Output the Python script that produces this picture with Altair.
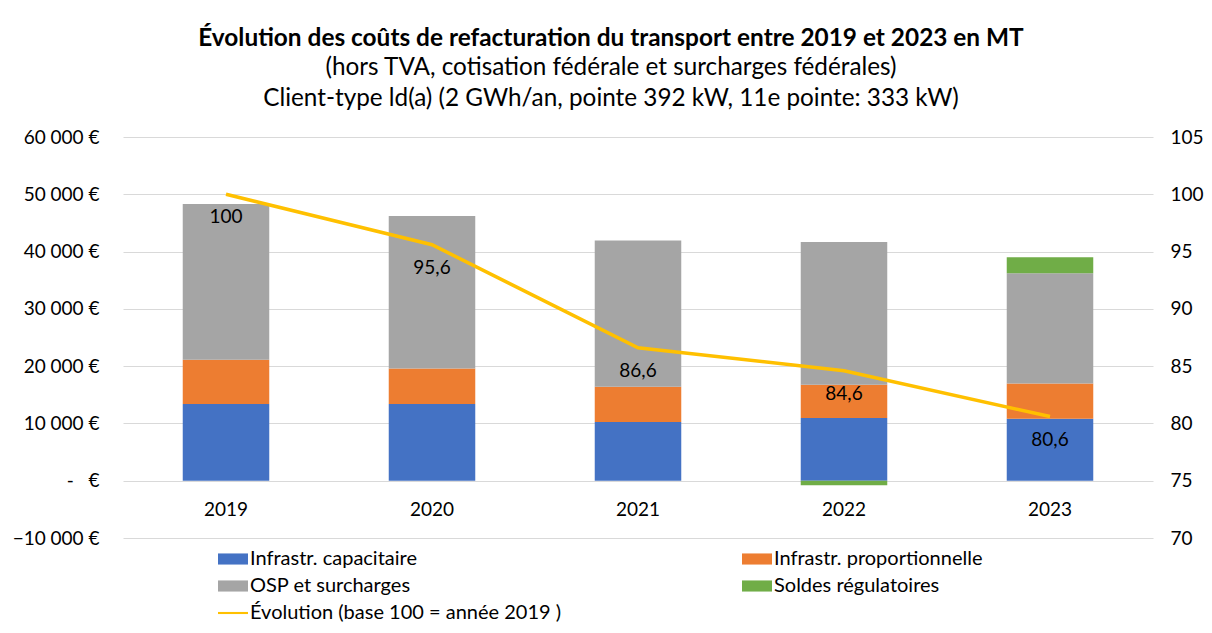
import altair as alt
import pandas as pd

years = ["2019", "2020", "2021", "2022", "2023"]
series = ["Infrastr. capacitaire", "Infrastr. proportionnelle", "OSP et surcharges", "Soldes régulatoires"]
capacitaire = [13400, 13400, 10250, 10950, 10800]
proportionnelle = [7700, 6200, 6150, 5800, 6150]
osp = [27200, 26600, 25550, 24900, 19250]
soldes = [0, 0, 0, -800, 2800]
evolution = [100, 95.6, 86.6, 84.6, 80.6]
line_name = "Évolution (base 100 = année 2019 )"

colors = ["#4472C4", "#ED7D31", "#A5A5A5", "#70AD47", "#FFC000"]
legend_names = series + [line_name]
shapes = ["M-1,-0.37H1V0.37H-1Z"] * 4 + ["M-1,-0.07H1V0.07H-1Z"]

rows = []
for i, y in enumerate(years):
    for k, (name, vals) in enumerate(zip(series, [capacitaire, proportionnelle, osp, soldes])):
        rows.append({"year": y, "serie": name, "value": vals[i], "ord": k})
bars_df = pd.DataFrame(rows)
line_df = pd.DataFrame({"year": years, "idx": evolution})
legend_df = pd.DataFrame({"serie": legend_names})

FONT = "Lato"

xscale = alt.Scale(domain=years, paddingInner=0.58, paddingOuter=0.29)
x_axis = alt.Axis(labelAngle=0, ticks=False, domain=False, grid=False, labelPadding=-38,
                  labelFontSize=19, labelFont=FONT, labelColor="#000000")
idx_scale = alt.Scale(domain=[70, 105], nice=False, zero=False)
idx_axis = alt.Axis(orient="right", values=[70, 75, 80, 85, 90, 95, 100, 105], grid=False,
                    domain=False, ticks=False, labelPadding=17, labelFontSize=19,
                    labelFont=FONT, labelColor="#000000")
fill_scale = alt.Scale(domain=legend_names, range=colors)

legend_def = alt.Legend(title=None, orient="none", legendX=95, legendY=407,
                        direction="horizontal", columns=2, columnPadding=180, rowPadding=2,
                        symbolType="M-1,-0.37H1V0.37H-1Z",
                        symbolSize=900, symbolOpacity=1, symbolStrokeWidth=0,
                        labelFontSize=20, labelFont=FONT, labelColor="#000000",
                        labelOffset=2, labelLimit=400)

bars = alt.Chart(bars_df).mark_bar().encode(
    x=alt.X("year:N", scale=xscale, sort=years, title=None, axis=x_axis),
    y=alt.Y("sum(value):Q", stack="zero",
            scale=alt.Scale(domain=[-10000, 60000], nice=False, zero=False),
            title=None,
            axis=alt.Axis(values=[-10000, 0, 10000, 20000, 30000, 40000, 50000, 60000],
                          labelExpr="datum.value == 0 ? '-\u00a0\u00a0\u00a0€' : replace(format(datum.value, ',d'), ',', '\u00a0') + '\u00a0€'",
                          grid=True, gridColor="#D9D9D9", gridWidth=1.2, domain=False, ticks=False,
                          labelPadding=24, labelFontSize=19, labelFont=FONT, labelColor="#000000")),
    fill=alt.Fill("serie:N", scale=fill_scale, legend=legend_def),
    order=alt.Order("ord:Q"),
)

legend_pts = alt.Chart(legend_df).transform_filter("false").mark_point(filled=True).encode(
    fill=alt.Fill("serie:N", scale=fill_scale, legend=legend_def),
    shape=alt.Shape("serie:N", scale=alt.Scale(domain=legend_names, range=shapes), legend=legend_def),
)

line = alt.Chart(line_df).mark_line(color="#FFC000", strokeWidth=3.5).encode(
    x=alt.X("year:N", scale=xscale, sort=years, title=None, axis=x_axis),
    y=alt.Y("idx:Q", scale=idx_scale, title=None, axis=idx_axis),
)

labels = alt.Chart(line_df).transform_calculate(
    lab="replace(format(datum.idx, '.1~f'), '.', ',')"
).mark_text(dy=23, fontSize=19, font=FONT, color="#000000").encode(
    x=alt.X("year:N", scale=xscale, sort=years, title=None, axis=x_axis),
    y=alt.Y("idx:Q", scale=idx_scale, title=None, axis=idx_axis),
    text="lab:N",
)

chart = alt.layer(
    bars, legend_pts,
    alt.layer(line, labels),
).resolve_scale(y="independent").properties(
    width=1030, height=401,
    autosize=alt.AutoSizeParams(type="none"),
    padding={"left": 115, "top": 129, "right": 51, "bottom": 94},
    title=alt.TitleParams(
        text="Évolution des coûts de refacturation du transport entre 2019 et 2023 en MT",
        subtitle=["(hors TVA, cotisation fédérale et surcharges fédérales)",
                  "Client-type ld(a) (2 GWh/an, pointe 392 kW, 11e pointe: 333 kW)"],
        font=FONT, fontSize=24.4, fontWeight="bold", color="#000000",
        subtitleFont=FONT, subtitleFontSize=24.3, subtitleColor="#000000",
        subtitleLineHeight=31, subtitlePadding=4,
        anchor="middle", frame="group", dx=-27, offset=16,
    ),
).configure_view(stroke=None)

chart.save("out.html", embed_options={"renderer": "svg", "actions": False})
